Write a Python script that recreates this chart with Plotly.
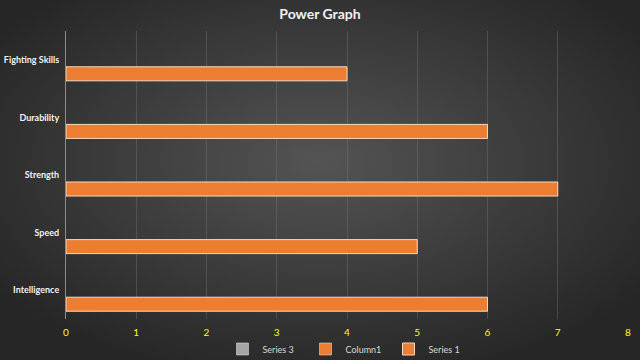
import base64
import plotly.graph_objects as go

categories = ["Intelligence", "Speed", "Strength", "Durability", "Fighting Skills"]
series1 = [6, 5, 7, 6, 4]
column1 = [None, None, None, None, None]
series3 = [None, None, None, None, None]
x_ticks = [0, 1, 2, 3, 4, 5, 6, 7, 8]

svg = (
    '<svg xmlns="http://www.w3.org/2000/svg" width="640" height="360" preserveAspectRatio="none">'
    '<defs><radialGradient id="g" cx="50%" cy="45%" r="62%">'
    '<stop offset="0%" stop-color="#545454"/>'
    '<stop offset="100%" stop-color="#262626"/>'
    '</radialGradient></defs>'
    '<rect width="640" height="360" fill="url(#g)"/></svg>'
)
bg = "data:image/svg+xml;base64," + base64.b64encode(svg.encode()).decode()

L, R, T, B = 66, 12, 31, 41
PW, PH = 640 - L - R, 360 - T - B

fig = go.Figure()
fig.add_trace(go.Bar(y=categories, x=series1, orientation="h", name="Series 1",
                     marker=dict(color="#ED7D31", line=dict(color="#F8D9C0", width=1)),
                     legendrank=3))
fig.add_trace(go.Bar(y=categories, x=column1, orientation="h", name="Column1",
                     marker=dict(color="#ED7D31"), legendrank=2))
fig.add_trace(go.Bar(y=categories, x=series3, orientation="h", name="Series 3",
                     marker=dict(color="#A5A5A5"), legendrank=1))

fig.update_layout(
    width=640, height=360,
    margin=dict(l=L, r=R, t=T, b=B, autoexpand=False),
    paper_bgcolor="#2e2e2e",
    plot_bgcolor="rgba(0,0,0,0)",
    images=[dict(source=bg, xref="paper", yref="paper", x=-L / PW, y=1 + T / PH,
                 sizex=640 / PW, sizey=360 / PH, xanchor="left", yanchor="top",
                 sizing="stretch", layer="below")],
    barmode="group",
    bargap=0.27,
    bargroupgap=0,
    title=dict(text="<b>Power Graph</b>", x=0.5, xanchor="center", y=0.975, yanchor="top",
               font=dict(family="Lato, Open Sans, sans-serif", size=14, color="#F2F2F2")),
    font=dict(family="Lato, Open Sans, sans-serif"),
    showlegend=True,
    legend=dict(orientation="h", x=0.5, xanchor="center", yref="container", y=11 / 360,
                yanchor="middle", traceorder="normal", font=dict(size=9, color="#D9D9D9"),
                itemwidth=30, entrywidth=38, entrywidthmode="pixels",
                bgcolor="rgba(0,0,0,0)"),
    xaxis=dict(range=[0, 8], tickvals=x_ticks, showgrid=True, gridcolor="rgba(120,120,120,0.4)",
               gridwidth=1, zeroline=False, showline=False, automargin=False,
               tickfont=dict(size=10, color="#FFFF00", family="Lato, sans-serif"),
               ticks="", ticklabelstandoff=6),
    yaxis=dict(showgrid=False, showline=True, linecolor="#8c8c8c", linewidth=1,
               zeroline=False, ticks="", automargin=False,
               tickfont=dict(size=9, color="#F2F2F2", family="Lato, sans-serif")),
)
fig.update_xaxes(tickprefix="<b>", ticksuffix="</b>")
fig.update_yaxes(tickprefix="<b>", ticksuffix="</b>", ticklabelstandoff=4)

fig.write_html("out.html")
